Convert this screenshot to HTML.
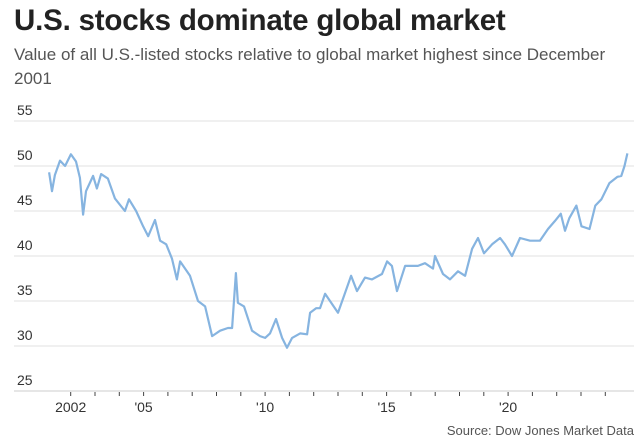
<!DOCTYPE html>
<html><head><meta charset="utf-8"><style>
body{margin:0;background:#fff;width:644px;height:444px;overflow:hidden;font-family:"Liberation Sans",sans-serif}
.t{position:absolute;left:14px;top:4px;font-size:29.5px;font-weight:bold;color:#222;letter-spacing:-0.2px}
.s{position:absolute;left:14px;top:43px;width:600px;font-size:17px;line-height:24px;color:#555}
</style></head><body>
<div class="t">U.S. stocks dominate global market</div>
<div class="s">Value of all U.S.-listed stocks relative to global market highest since December 2001</div>
<svg id="c" width="644" height="444" style="position:absolute;left:0;top:0"></svg>
<script>
const years=[2001.11,2001.23,2001.35,2001.56,2001.77,2002.01,2002.22,2002.38,2002.51,2002.63,2002.92,2003.08,2003.25,2003.53,2003.82,2004.23,2004.40,2004.69,2004.98,2005.19,2005.47,2005.68,2005.93,2006.17,2006.37,2006.50,2006.91,2007.24,2007.53,2007.82,2008.15,2008.47,2008.64,2008.80,2008.88,2009.13,2009.46,2009.79,2010.00,2010.20,2010.45,2010.70,2010.90,2011.11,2011.44,2011.73,2011.85,2012.10,2012.26,2012.47,2012.67,2013.00,2013.25,2013.54,2013.78,2014.11,2014.40,2014.81,2015.02,2015.22,2015.43,2015.76,2016.29,2016.58,2016.91,2016.99,2017.32,2017.61,2017.94,2018.23,2018.52,2018.76,2019.01,2019.34,2019.67,2019.87,2020.16,2020.49,2020.90,2021.31,2021.64,2021.93,2022.17,2022.34,2022.52,2022.81,2023.02,2023.35,2023.59,2023.84,2024.17,2024.50,2024.66,2024.79,2024.91];
const values=[49.3,47.2,49,50.6,50,51.3,50.5,48.7,44.6,47.2,48.9,47.5,49.1,48.6,46.4,45,46.3,45,43.3,42.2,44,41.7,41.3,39.7,37.4,39.4,37.8,35,34.4,31.1,31.7,32,32,38.1,34.8,34.4,31.7,31.1,30.9,31.4,33,30.9,29.8,30.9,31.4,31.3,33.7,34.2,34.2,35.8,35,33.7,35.6,37.8,36.1,37.6,37.4,38,39.4,38.9,36.1,38.9,38.9,39.2,38.6,40,38,37.4,38.3,37.8,40.8,42,40.3,41.3,42,41.3,40,42,41.7,41.7,43,43.9,44.7,42.8,44.2,45.6,43.3,43,45.6,46.3,48.1,48.8,48.9,50,51.4];
const yTicks=[25,30,35,40,45,50,55];
const xTickLabels=[[2002,"2002"],[2005,"'05"],[2010,"'10"],[2015,"'15"],[2020,"'20"]];
const xTickYears=[2002,2003,2004,2005,2006,2007,2008,2009,2010,2011,2012,2013,2014,2015,2016,2017,2018,2019,2020,2021,2022,2023,2024];
const svg=document.getElementById('c'),NS="http://www.w3.org/2000/svg";
const X=t=>70.7+(t-2002)*24.3, Y=v=>391-(v-25)*9;
function mk(tag,a,txt){const e=document.createElementNS(NS,tag);for(const k in a)e.setAttribute(k,a[k]);if(txt!=null)e.textContent=txt;svg.appendChild(e);return e;}
yTicks.forEach(v=>{
 const g=mk('line',{x1:14,x2:634,y1:Y(v),y2:Y(v),stroke:v==25?'#ccc':'#e2e2e2','stroke-width':1});
 
 
 const l=mk('text',{x:17,y:Y(v)-6,'font-size':14,fill:'#333'},v);
 
 
});
xTickYears.forEach(t=>{
 const m=mk('line',{x1:X(t),x2:X(t),y1:392,y2:396,stroke:'#444','stroke-width':1});
 
 
});
xTickLabels.forEach(([t,s])=>{
 const l=mk('text',{x:X(t),y:412,'font-size':14,fill:'#333','text-anchor':'middle'},s);
 
 
});
const p=mk('polyline',{points:years.map((t,i)=>X(t).toFixed(1)+','+Y(values[i]).toFixed(1)).join(' '),fill:'none',stroke:'#86b4e0','stroke-width':2.2,'stroke-linejoin':'round'});


const s=mk('text',{x:634,y:435,'font-size':13,fill:'#555','text-anchor':'end'},'Source: Dow Jones Market Data');


</script>
</body></html>
